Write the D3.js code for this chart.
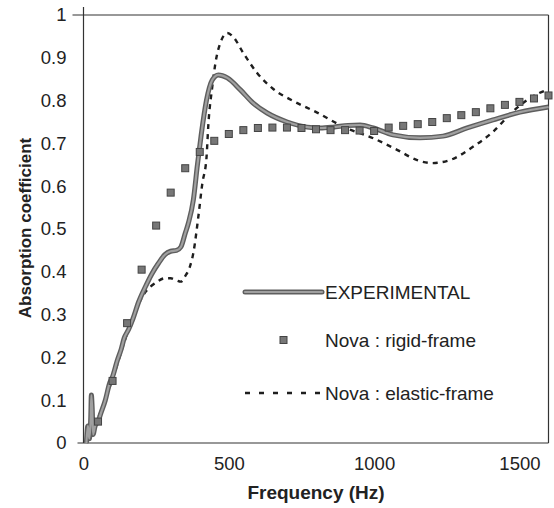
<!DOCTYPE html>
<html>
<head>
<meta charset="utf-8">
<script src="https://cdn.jsdelivr.net/npm/d3@7"></script>
<style>
  body { margin: 0; background: #fff; }
  svg { font-family: "Liberation Sans", Arial, Helvetica, sans-serif; }
</style>
</head>
<body>
<svg id="chart" width="554" height="508"></svg>
<script>
// values
const xTicks = [0, 500, 1000, 1500];
const yTicks = [0, 0.1, 0.2, 0.3, 0.4, 0.5, 0.6, 0.7, 0.8, 0.9, 1];
const seriesNames = ["EXPERIMENTAL", "Nova : rigid-frame", "Nova : elastic-frame"];

// measured curve (freq, alpha)
const experimental = [
  [10, 0.0], [15, 0.04], [20, 0.01], [25, 0.06], [27, 0.112], [30, 0.08], [33, 0.02],
  [40, 0.04], [50, 0.05], [60, 0.07], [75, 0.1], [90, 0.14], [100, 0.155], [115, 0.19],
  [130, 0.22], [140, 0.245], [155, 0.265], [170, 0.29], [190, 0.33], [213, 0.365],
  [235, 0.395], [258, 0.42], [280, 0.44], [300, 0.448], [320, 0.45], [335, 0.458],
  [350, 0.49], [361, 0.514], [378, 0.568], [392, 0.65], [405, 0.72], [423, 0.80],
  [443, 0.848], [464, 0.86], [495, 0.853], [540, 0.825], [584, 0.794], [632, 0.771],
  [701, 0.75], [770, 0.738], [814, 0.736], [859, 0.738], [910, 0.742], [952, 0.743],
  [997, 0.736], [1065, 0.72], [1158, 0.713], [1237, 0.717], [1320, 0.736],
  [1409, 0.755], [1502, 0.773], [1600, 0.785]
];

// rigid-frame prediction, one point every 50 Hz
const rigidFreq = [50, 100, 150, 200, 250, 300, 350, 400, 450, 500, 550, 600, 650, 700, 750, 800,
  850, 900, 950, 1000, 1050, 1100, 1150, 1200, 1250, 1300, 1350, 1400, 1450, 1500, 1550, 1600];
const rigidAlpha = [0.05, 0.145, 0.28, 0.405, 0.508, 0.585, 0.642, 0.68, 0.706, 0.722, 0.731,
  0.736, 0.737, 0.737, 0.736, 0.733, 0.731, 0.731, 0.73, 0.729, 0.737, 0.741, 0.745, 0.75,
  0.759, 0.766, 0.773, 0.782, 0.79, 0.797, 0.805, 0.812];

// elastic-frame prediction
const elastic = [
  [10, 0.0], [25, 0.03], [50, 0.06], [100, 0.15], [150, 0.255], [190, 0.325], [206, 0.346],
  [230, 0.365], [254, 0.377], [280, 0.385], [300, 0.385], [320, 0.38], [335, 0.377],
  [350, 0.39], [365, 0.41], [378, 0.444], [395, 0.528], [409, 0.607], [423, 0.665],
  [430, 0.748], [443, 0.832], [454, 0.888], [471, 0.935], [495, 0.958], [515, 0.949],
  [550, 0.911], [598, 0.864], [653, 0.827], [722, 0.799], [804, 0.772], [894, 0.739],
  [997, 0.712], [1079, 0.685], [1148, 0.661], [1199, 0.654], [1261, 0.661], [1340, 0.692],
  [1409, 0.727], [1478, 0.775], [1546, 0.81], [1594, 0.825]
];

const svg = d3.select("#chart");

const x = d3.scaleLinear().domain([0, 1600]).range([83.5, 548.5]);
const y = d3.scaleLinear().domain([0, 1]).range([443, 15]);

const line = d3.line()
  .x(d => x(d[0]))
  .y(d => y(d[1]))
  .curve(d3.curveMonotoneX);

// frame
const frame = svg.append("g").attr("stroke", "#333").attr("stroke-width", 1.2).attr("fill", "none");
frame.append("line").attr("x1", x(0)).attr("x2", x(0)).attr("y1", y(1) - 8).attr("y2", y(0));
frame.append("line").attr("x1", x(0) - 11).attr("x2", x(1600)).attr("y1", y(1)).attr("y2", y(1));
frame.append("line").attr("x1", x(0) - 6).attr("x2", x(1600)).attr("y1", y(0)).attr("y2", y(0));
frame.append("line").attr("x1", x(1600)).attr("x2", x(1600)).attr("y1", y(1)).attr("y2", y(0));

// axes (labels only, the frame is drawn above)
const yAxis = svg.append("g")
  .attr("transform", `translate(${x(0)},0)`)
  .call(d3.axisLeft(y).tickValues(yTicks).tickSize(0).tickPadding(17).tickFormat(d3.format("")));
yAxis.select(".domain").remove();
yAxis.selectAll("text").attr("font-size", 18.5).attr("fill", "#222")
  .attr("font-family", "Liberation Sans, Arial, sans-serif");

const xAxis = svg.append("g")
  .attr("transform", `translate(0,${y(0)})`)
  .call(d3.axisBottom(x).tickValues(xTicks).tickSize(0).tickPadding(14).tickFormat(d3.format("d")));
xAxis.select(".domain").remove();
xAxis.selectAll("text").attr("font-size", 18.5).attr("fill", "#222")
  .attr("font-family", "Liberation Sans, Arial, sans-serif");

// axis titles
svg.append("text")
  .attr("x", (x(0) + x(1600)) / 2)
  .attr("y", 499)
  .attr("text-anchor", "middle")
  .attr("font-size", 19)
  .attr("font-weight", "bold")
  .attr("fill", "#222")
  .text("Frequency (Hz)");

svg.append("text")
  .attr("transform", "translate(31,228) rotate(-90)")
  .attr("text-anchor", "middle")
  .attr("font-size", 17)
  .attr("font-weight", "bold")
  .attr("fill", "#222")
  .text("Absorption coefficient");

// elastic-frame dashed curve
svg.append("path")
  .datum(elastic)
  .attr("fill", "none")
  .attr("stroke", "#1e1e1e")
  .attr("stroke-width", 2.4)
  .attr("stroke-dasharray", "5,5")
  .attr("d", line);

// experimental thick gray curve
svg.append("path")
  .datum(experimental)
  .attr("fill", "none")
  .attr("stroke", "#5e5e5e")
  .attr("stroke-width", 5)
  .attr("stroke-linejoin", "round")
  .attr("d", line);
svg.append("path")
  .datum(experimental)
  .attr("fill", "none")
  .attr("stroke", "#a0a0a0")
  .attr("stroke-width", 2.2)
  .attr("stroke-linejoin", "round")
  .attr("d", line);

// rigid-frame squares
const sq = 7;
svg.append("g")
  .selectAll("rect")
  .data(rigidFreq.map((f, i) => [f, rigidAlpha[i]]))
  .join("rect")
  .attr("x", d => x(d[0]) - sq / 2)
  .attr("y", d => y(d[1]) - sq / 2)
  .attr("width", sq)
  .attr("height", sq)
  .attr("fill", "#777")
  .attr("stroke", "#444")
  .attr("stroke-width", 1);

// legend
const legend = svg.append("g").attr("font-size", 19).attr("fill", "#222");
const lx0 = 245, lx1 = 322, tx = 325;
const rows = [292, 340, 393];

legend.append("line").attr("x1", lx0).attr("x2", lx1).attr("y1", rows[0]).attr("y2", rows[0])
  .attr("stroke", "#5e5e5e").attr("stroke-width", 5).attr("stroke-linecap", "round");
legend.append("line").attr("x1", lx0).attr("x2", lx1).attr("y1", rows[0]).attr("y2", rows[0])
  .attr("stroke", "#a0a0a0").attr("stroke-width", 2.2).attr("stroke-linecap", "round");

legend.append("rect").attr("x", 283.5 - sq / 2).attr("y", rows[1] - sq / 2)
  .attr("width", sq).attr("height", sq)
  .attr("fill", "#777").attr("stroke", "#444").attr("stroke-width", 1);

legend.append("line").attr("x1", lx0).attr("x2", lx1).attr("y1", rows[2]).attr("y2", rows[2])
  .attr("stroke", "#1e1e1e").attr("stroke-width", 2.4).attr("stroke-dasharray", "5,9");

legend.selectAll("text.lab")
  .data(seriesNames)
  .join("text")
  .attr("class", "lab")
  .attr("x", tx)
  .attr("y", (d, i) => rows[i])
  .attr("dy", "0.36em")
  .text(d => d);
</script>
</body>
</html>
